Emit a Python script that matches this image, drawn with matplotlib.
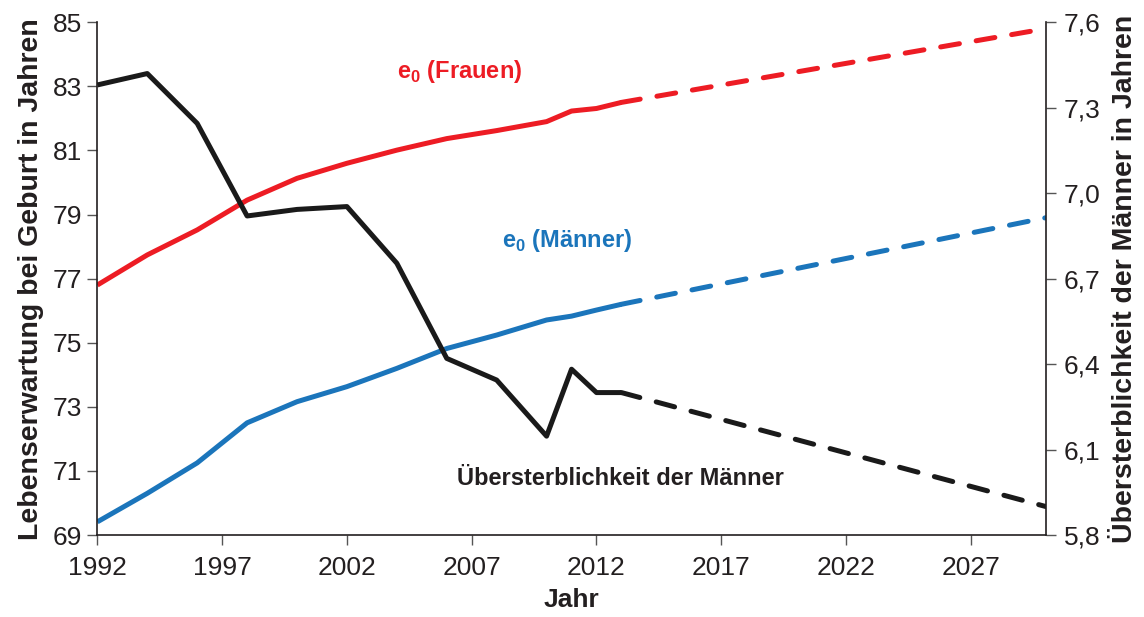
import matplotlib
matplotlib.use('Agg')
import matplotlib.pyplot as plt
from matplotlib.ticker import FuncFormatter

plt.rcParams['font.family'] = ['Liberation Sans', 'DejaVu Sans']
plt.rcParams['mathtext.fontset'] = 'custom'
plt.rcParams['mathtext.rm'] = 'Liberation Sans'
plt.rcParams['mathtext.bf'] = 'Liberation Sans:bold'

# Beobachtete Werte
years = [1992, 1994, 1996, 1998, 2000, 2002, 2004, 2006, 2008, 2010, 2011, 2012, 2013]
e0_frauen = [76.8, 77.74, 78.52, 79.45, 80.13, 80.6, 81.01, 81.37, 81.62, 81.9, 82.23, 82.31, 82.5]
e0_maenner = [69.41, 70.3, 71.25, 72.5, 73.16, 73.63, 74.2, 74.82, 75.24, 75.71, 75.83, 76.02, 76.2]
uebersterblichkeit = [7.38, 7.42, 7.245, 6.92, 6.943, 6.953, 6.754, 6.42, 6.344, 6.147, 6.382, 6.30, 6.30]

# Projektion
years_proj = [2013, 2030]
e0_frauen_proj = [82.5, 84.8]
e0_maenner_proj = [76.2, 78.9]
uebersterblichkeit_proj = [6.30, 5.9]

x_ticks = [1992, 1997, 2002, 2007, 2012, 2017, 2022, 2027]
y_ticks = [69, 71, 73, 75, 77, 79, 81, 83, 85]
y2_ticks = [5.8, 6.1, 6.4, 6.7, 7.0, 7.3, 7.6]

RED = '#ed1c24'
BLUE = '#1b75bb'
BLACK = '#1a1a1a'
TXT = '#231f20'
LW = 3.6
DASH = (3.8, 3.4)

fig = plt.figure(figsize=(11.44, 6.17), dpi=100)
ax = fig.add_axes([0.0851, 0.1329, 0.9141 - 0.0851, 0.9639 - 0.1329])
ax2 = ax.twinx()

ax.plot(years, e0_frauen, color=RED, lw=LW, solid_capstyle='butt')
ax.plot(years_proj, e0_frauen_proj, color=RED, lw=LW, dashes=DASH, dash_capstyle='round')
ax.plot(years, e0_maenner, color=BLUE, lw=LW, solid_capstyle='butt')
ax.plot(years_proj, e0_maenner_proj, color=BLUE, lw=LW, dashes=DASH, dash_capstyle='round')
ax2.plot(years, uebersterblichkeit, color=BLACK, lw=LW, solid_capstyle='butt')
ax2.plot(years_proj, uebersterblichkeit_proj, color=BLACK, lw=LW, dashes=DASH, dash_capstyle='round')

ax.set_xlim(1992, 2030)
ax.set_ylim(69, 85)
ax.set_yticks(y_ticks)
ax.set_xticks(x_ticks)
ax2.set_ylim(5.8, 7.6)
ax2.set_yticks(y2_ticks)
ax2.yaxis.set_major_formatter(FuncFormatter(lambda v, p: '{:.1f}'.format(v).replace('.', ',')))

for a in (ax, ax2):
    a.spines['top'].set_visible(False)
    a.tick_params(labelsize=19, colors=TXT, length=7, width=1, direction='out')
    a.tick_params(axis='both', color='#555555')
ax.spines['right'].set_visible(False)
ax2.spines['left'].set_visible(False)
ax2.spines['bottom'].set_visible(False)
for s in ('left', 'bottom'):
    ax.spines[s].set_color(TXT)
    ax.spines[s].set_linewidth(1.2)
ax2.spines['right'].set_color(TXT)
ax2.spines['right'].set_linewidth(1.2)
ax.tick_params(axis='x', pad=8)
ax.tick_params(axis='y', pad=4)
ax2.tick_params(axis='y', pad=6)

ax.set_xlabel('Jahr', fontsize=19, fontweight='bold', color=TXT, labelpad=6)
ax.set_ylabel('Lebenserwartung bei Geburt in Jahren', fontsize=20.5, fontweight='bold', color=TXT, labelpad=6)
ax2.set_ylabel('Übersterblichkeit der Männer in Jahren', fontsize=20.5, fontweight='bold', color=TXT, labelpad=8)

ax.text(2004.0, 83.45, r'e$_\mathbf{0}$ (Frauen)', color=RED, fontsize=17, fontweight='bold', va='center', ha='left')
ax.text(2008.2, 78.2, r'e$_\mathbf{0}$ (Männer)', color=BLUE, fontsize=17, fontweight='bold', va='center', ha='left')
ax.text(2006.4, 70.77, 'Übersterblichkeit der Männer', color=TXT, fontsize=17, fontweight='bold', va='center', ha='left')

plt.savefig('out.png', dpi=100)
